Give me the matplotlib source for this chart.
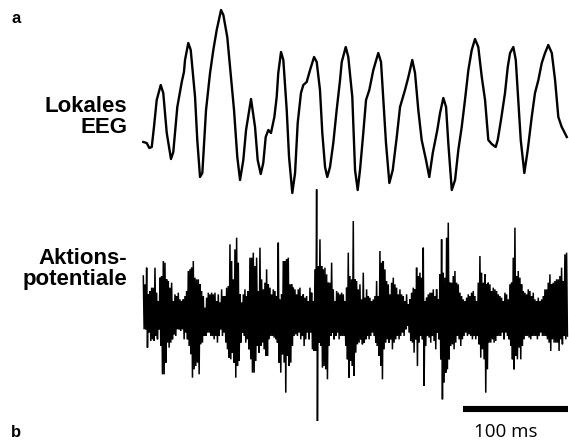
import numpy as np
import matplotlib
matplotlib.use("Agg")
import matplotlib.pyplot as plt

# ---------------- data ----------------
# Local EEG: time (ms) and amplitude (a.u.)
eeg_t = [0, 3.2, 5.7, 8.0, 10.1, 12.7, 16.5, 18.9, 22.2, 26.2, 28.4, 32.2, 36.4, 38.5, 39.5,
         42.6, 44.9, 49.0, 51.1, 53.7, 55.9, 59.4, 63.2, 66.3, 69.5, 73.6, 75.8, 79.5, 82.1,
         85.9, 89.0, 91.6, 94.7, 97.3, 102.0, 105.8, 108.3, 111.2, 113.6, 115.9, 118.4, 120.9,
         124.1, 126.3, 127.8, 130.4, 132.6, 135.8, 138.0, 141.1, 143.7, 146.2, 149.3, 151.5,
         154.7, 157.9, 161.7, 164.2, 167.3, 169.5, 172.1, 174.2, 176.8, 179.9, 183.1, 186.3,
         187.9, 191.7, 194.1, 197.9, 200.5, 203.0, 205.2, 208.3, 210.9, 214.0, 217.8, 222.5,
         225.1, 227.3, 229.8, 233.0, 236.2, 240.0, 243.1, 247.8, 251.0, 254.7, 257.3, 260.4,
         263.6, 267.7, 270.8, 274.1, 278.4, 281.0, 284.1, 286.7, 288.8, 292.1, 295.2, 298.3,
         301.5, 304.6, 307.8, 311.0, 314.1, 317.2, 320.5, 323.6, 325.2, 326.7, 329.9, 333.7,
         335.6, 338.7, 342.5, 345.1, 347.3, 350.4, 352.7, 355.1, 357.4, 360.8, 364.0, 367.8,
         370.9, 374.1, 377.3, 380.4, 383.5, 386.8, 389.9, 393.0, 396.2, 397.7, 401.0]
eeg_v = [58, 57, 52, 53, 73, 100, 115, 107, 67, 41, 48, 93, 118, 128, 140,
         157, 150, 103, 60, 23, 27, 90, 127, 150, 170, 190, 185, 163, 133,
         90, 43, 20, 40, 70, 101, 73, 40, 26, 37, 63, 70, 67,
         83, 103, 127, 148, 140, 90, 43, 7, 27, 77, 107, 115,
         118, 130, 143, 138, 110, 67, 33, 23, 33, 57, 90, 120,
         138, 153, 143, 103, 30, 10, 30, 67, 100, 110, 130, 147,
         138, 100, 57, 17, 30, 63, 93, 110, 123, 140, 127, 90,
         60, 40, 23, 47, 70, 87, 102, 93, 57, 10, 20, 50,
         73, 100, 130, 150, 161, 153, 123, 100, 80, 60, 56, 53,
         60, 80, 107, 133, 147, 153, 140, 100, 60, 27, 50, 83,
         107, 120, 137, 147, 155, 147, 120, 83, 73, 70, 63]

# Action potentials: sampling step (ms) and per-sample upper / lower excursions (a.u.)
ap_dt = 1.578
ap_upper = [120, 95, 145, 65, 75, 85, 85, 145, 70, 45,
            115, 120, 165, 160, 110, 105, 85, 100, 45, 65,
            60, 70, 50, 45, 50, 60, 75, 135, 140, 145,
            165, 115, 110, 110, 95, 75, 60, 25, 55, 70,
            65, 70, 65, 70, 45, 65, 40, 80, 60, 60,
            85, 90, 215, 165, 110, 200, 235, 160, 65, 40,
            65, 80, 60, 75, 175, 175, 190, 150, 175, 75,
            205, 110, 80, 100, 140, 95, 85, 65, 80, 75,
            60, 220, 50, 65,
            165, 165, 170, 175, 95, 95, 85, 80, 65, 80,
            85, 60, 65, 55, 60, 45, 85, 70, 45, 140,
            380, 150, 230, 150, 140, 145, 125, 100, 100, 160,
            80, 45, 75, 70, 65, 70, 65, 45, 85, 190,
            120, 110, 285, 110, 105, 80, 95, 50, 130, 55,
            80, 60, 55, 45, 50, 60, 105, 60, 195, 160,
            165, 140, 105, 95, 65, 100, 115, 95, 85, 65,
            80, 65, 60, 45, 65, 35, 50, 70, 85, 80,
            145, 120, 130, 115, 205,
            45, 55, 65, 70, 70, 80, 60, 80, 50, 125,
            230, 130, 115, 235, 280, 100, 100, 120, 135, 100,
            95, 70, 60, 50, 45, 55, 65, 60, 70, 75,
            60, 45, 100, 180, 130, 100, 125, 95, 100, 95,
            75, 85, 80, 75, 65, 60, 55, 45, 70, 65,
            50, 95, 100, 175, 265, 120, 135, 115, 95, 75,
            70, 65, 80, 75, 60, 70, 50, 45, 55, 45,
            50, 60, 80, 80, 100, 125, 95, 100, 105, 110,
            110, 120, 145, 105, 185, 190]
ap_lower = [-40, -40, -95, -50, -75, -70, -75, -60, -70, -40,
            -90, -175, -175, -140, -80, -95, -80, -70, -55, -60,
            -40, -40, -45, -40, -70, -50, -70, -90, -115, -185,
            -160, -150, -140, -175, -85, -80, -60, -60, -50, -50,
            -60, -60, -70, -60, -80, -60, -40, -60, -50, -80,
            -100, -125, -130, -110, -140, -185, -150, -135, -80, -50,
            -60, -80, -70, -100, -130, -170, -170, -135, -90, -110,
            -90, -80, -100, -120, -120, -70, -60, -60, -65, -70,
            -80, -140, -170, -115,
            -140, -230, -120, -150, -140, -90, -60, -55, -60, -50,
            -70, -60, -90, -70, -50, -70, -50, -100, -105, -105,
            -315, -80, -90, -155, -150, -160, -190, -90, -60, -50,
            -70, -60, -50, -70, -60, -60, -60, -90, -130, -185,
            -135, -150, -180, -110, -85, -80, -70, -85, -80, -70,
            -60, -70, -60, -50, -60, -80, -90, -120, -150, -190,
            -100, -80, -70, -80, -70, -100, -80, -70, -60, -70,
            -60, -50, -60, -40, -30, -50, -75, -80, -110, -70,
            -150, -80, -60, -70, -210,
            -90, -60, -65, -80, -60, -75, -100, -50, -70, -130,
            -250, -200, -170, -160, -130, -90, -85, -100, -80, -60,
            -70, -90, -70, -60, -50, -60, -55, -60, -70, -60,
            -70, -60, -85, -125, -100, -130, -230, -160, -80, -80,
            -70, -80, -75, -60, -60, -60, -50, -70, -50, -60,
            -70, -90, -130, -160, -120, -130, -95, -130, -90, -70,
            -60, -60, -65, -70, -60, -60, -60, -70, -60, -50,
            -60, -60, -60, -70, -80, -105, -70, -80, -80, -80,
            -105, -70, -85, -60, -70, -60]

scalebar_ms = 100
label_eeg = "Lokales\nEEG"
label_ap = "Aktions-\npotentiale"

# ---------------- figure ----------------
W, H = 569, 440
fig = plt.figure(figsize=(W / 100, H / 100), dpi=100)
fig.patch.set_facecolor("white")

xlim = (-135.7, 403.1)

ax_eeg = fig.add_axes([0, 0, 1, 1])
ax_eeg.set_xlim(*xlim)
ax_eeg.set_ylim(-240, 200)
ax_eeg.axis("off")
ax_eeg.plot(eeg_t, eeg_v, color="black", lw=1.7, solid_joinstyle="round")

ax_ap = fig.add_axes([0, 0, 1, 1])
ax_ap.set_xlim(*xlim)
ax_ap.set_ylim(-372, 948)
ax_ap.axis("off")
ax_ap.patch.set_alpha(0)

n = len(ap_upper)
t = np.arange(n) * ap_dt
zz_t = np.empty(2 * n)
zz_v = np.empty(2 * n)
zz_t[0::2] = t
zz_t[1::2] = t + ap_dt / 2
zz_v[0::2] = ap_upper
zz_v[1::2] = ap_lower
ax_ap.plot(zz_t, zz_v, color="black", lw=1.1, solid_joinstyle="miter")

# scale bar
sb_start = 302.5
ax_ap.plot([sb_start, sb_start + scalebar_ms], [-280, -280], color="black",
           lw=4.4, solid_capstyle="butt")


def fx(px):
    return px / W


def fy(py):
    return 1 - py / H


lab_kw = dict(fontsize=16, fontweight="bold", family="Liberation Sans",
              ha="right", va="top", multialignment="right", linespacing=0.98)
fig.text(fx(127), fy(96), label_eeg, **lab_kw)
fig.text(fx(127), fy(248), label_ap, **lab_kw)

fig.text(fx(11), fy(23), "a", fontsize=12, fontweight="bold",
         family="Liberation Sans", ha="left", va="baseline")
fig.text(fx(11), fy(437), "b", fontsize=12, fontweight="bold",
         family="Liberation Sans", ha="left", va="baseline")

fig.text(fx(506), fy(437), f"{scalebar_ms} ms", fontsize=13.5,
         family="Open Sans", ha="center", va="baseline")

fig.savefig("out.png", dpi=100, facecolor="white")
